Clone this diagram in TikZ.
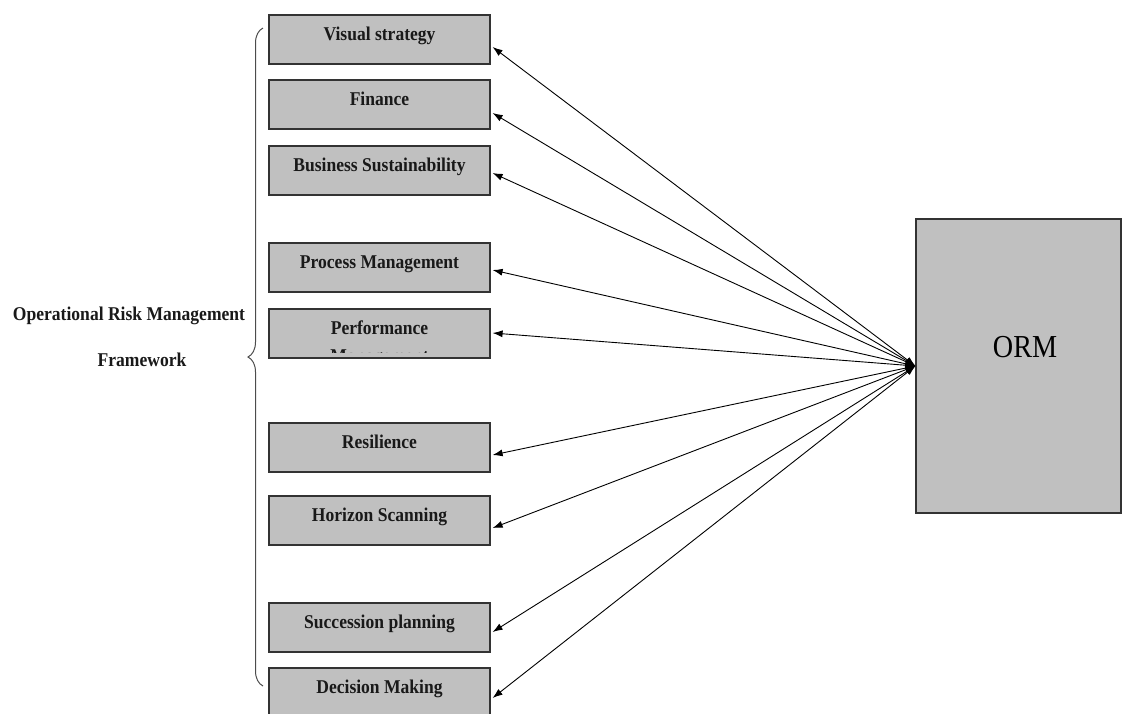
\documentclass[tikz,border=0pt]{standalone}
\usepackage{fontspec}
\setmainfont{Liberation Serif}
\newfontfamily\lblfont{Liberation Serif}[FakeStretch=0.9]
\newfontfamily\ormfont{Liberation Serif}[FakeStretch=0.88]
\usetikzlibrary{arrows.meta,calc,decorations.pathreplacing}
\definecolor{boxgray}{RGB}{192,192,192}

\tikzset{
  factor/.style={draw=black!80, line width=1.2pt, fill=boxgray,
    minimum width=221pt, minimum height=49pt, inner sep=0pt},
  lbl/.style={font=\lblfont\bfseries\fontsize{19.5}{23}\selectfont,
    anchor=base, inner sep=0pt, text=black!90},
  link/.style={line width=0.9pt,
    {Latex[length=10pt,width=7pt]}-{Latex[length=10pt,width=7pt]}},
  bracepath/.style={draw=black!70, line width=1pt,
    decorate, decoration={brace, amplitude=15pt, aspect=0.5}},
}

\begin{document}
\begin{tikzpicture}[x=1pt, y=-1pt]
  \clip (0,0) rectangle (1122,713);

  % the central ORM block
  \node[draw=black!80, line width=1.2pt, fill=boxgray, inner sep=0pt,
        minimum width=205pt, minimum height=294pt] (orm) at (1018.5,366) {};
  \node[font=\ormfont\fontsize{32}{36}\selectfont, inner sep=0pt, anchor=base]
        (ormlbl) at (1025,357) {ORM};

  % framework components: number / top edge / text / arrow offset
  \foreach \n/\top/\txt/\dy in {
      1/15/Visual strategy/7.5,
      2/80/Finance/8.5,
      3/146/Business Sustainability/2.5,
      4/243/Process Management/2.5,
      5/309/Performance/-0.5,
      6/423/Resilience/7.5,
      7/496/Horizon Scanning/7.5,
      8/603/Succession planning/4.5,
      9/668/Decision Making/5.5} {
    \node[factor] (b\n) at (379.5,\top+24.5) {};
    \node[lbl] (l\n) at ($(b\n.center)+(0,1)$) {\txt};
    \coordinate (t\n) at ($(b\n.east)+(2,\dy)$);
    \draw[link] (orm.west) -- (t\n);
  }

  % second line of the Performance box, cut off by the box
  \begin{scope}
    \clip (269,309) rectangle (490,352);
    \node[lbl] (l5b) at (379.5,362) {Management};
  \end{scope}

  % brace grouping the components
  \coordinate (bracebot) at (263,686);
  \coordinate (bracetop) at (263,28);
  \draw[bracepath] (bracebot) -- (bracetop);

  \node[lbl] (fw1) at (129,320) {Operational Risk Management};
  \node[lbl] (fw2) at (142,366) {Framework};
\end{tikzpicture}
\end{document}
